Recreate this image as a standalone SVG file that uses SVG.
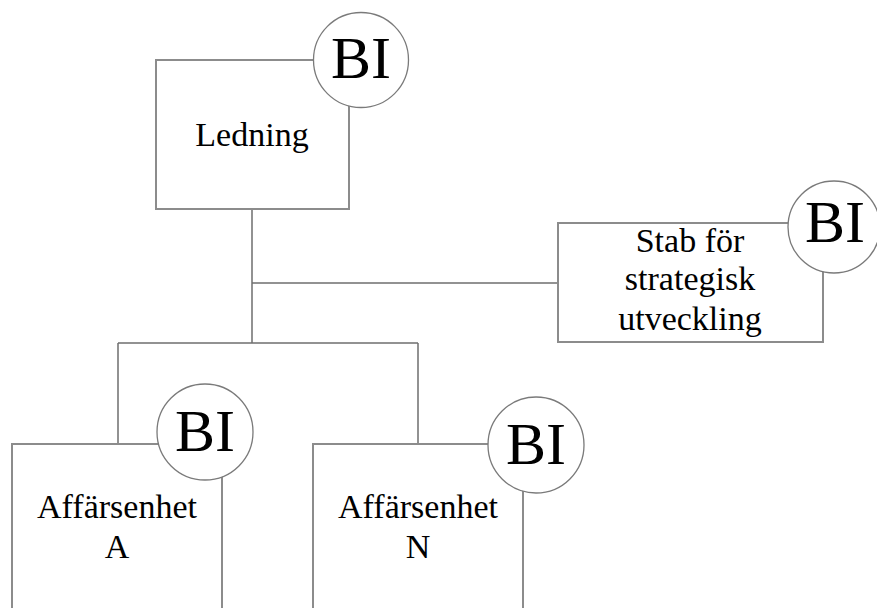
<svg xmlns="http://www.w3.org/2000/svg" width="877" height="608" viewBox="0 0 877 608">
  <style>
    .box { fill: #ffffff; stroke: #8c8c8c; stroke-width: 2; }
    .bi { fill: #ffffff; stroke: #7a7a7a; stroke-width: 1.3; }
    .lbl { font-family: "Liberation Serif", "Times New Roman", serif; font-size: 34px; fill: #000000; text-anchor: middle; }
    .bit { font-family: "Liberation Serif", "Times New Roman", serif; font-size: 60px; fill: #000000; text-anchor: middle; }
    .conn { fill: none; stroke: #6e6e6e; stroke-width: 1.5; }
  </style>
  <rect width="877" height="608" fill="#ffffff"/>

  <!-- connectors -->
  <g id="connectors">
    <path class="conn" d="M252,209 V343"/>
    <path class="conn" d="M252,283 H558"/>
    <path class="conn" d="M118,343 H418"/>
    <path class="conn" d="M118,343 V444"/>
    <path class="conn" d="M418,343 V444"/>
  </g>

  <!-- management -->
  <g id="ledning">
    <rect class="box" x="156" y="60" width="193" height="149"/>
    <text class="lbl" x="252" y="146">Ledning</text>
    <circle class="bi" cx="361" cy="60" r="47.5"/>
    <text class="bit" x="361" y="78">BI</text>
  </g>

  <!-- strategy staff -->
  <g id="stab">
    <rect class="box" x="558" y="223" width="265" height="119"/>
    <text class="lbl" x="690" y="252">Stab för</text>
    <text class="lbl" x="690" y="290">strategisk</text>
    <text class="lbl" x="690" y="330">utveckling</text>
    <circle class="bi" cx="834" cy="227" r="46"/>
    <text class="bit" x="835" y="242">BI</text>
  </g>

  <!-- business unit A -->
  <g id="enhet-a">
    <rect class="box" x="12" y="444" width="210" height="190"/>
    <text class="lbl" x="117" y="518">Affärsenhet</text>
    <text class="lbl" x="117" y="558">A</text>
    <circle class="bi" cx="205" cy="432" r="48"/>
    <text class="bit" x="205" y="451">BI</text>
  </g>

  <!-- business unit N -->
  <g id="enhet-n">
    <rect class="box" x="313" y="444" width="210" height="190"/>
    <text class="lbl" x="418" y="518">Affärsenhet</text>
    <text class="lbl" x="418" y="558">N</text>
    <circle class="bi" cx="536" cy="445" r="48"/>
    <text class="bit" x="536" y="464">BI</text>
  </g>
</svg>
